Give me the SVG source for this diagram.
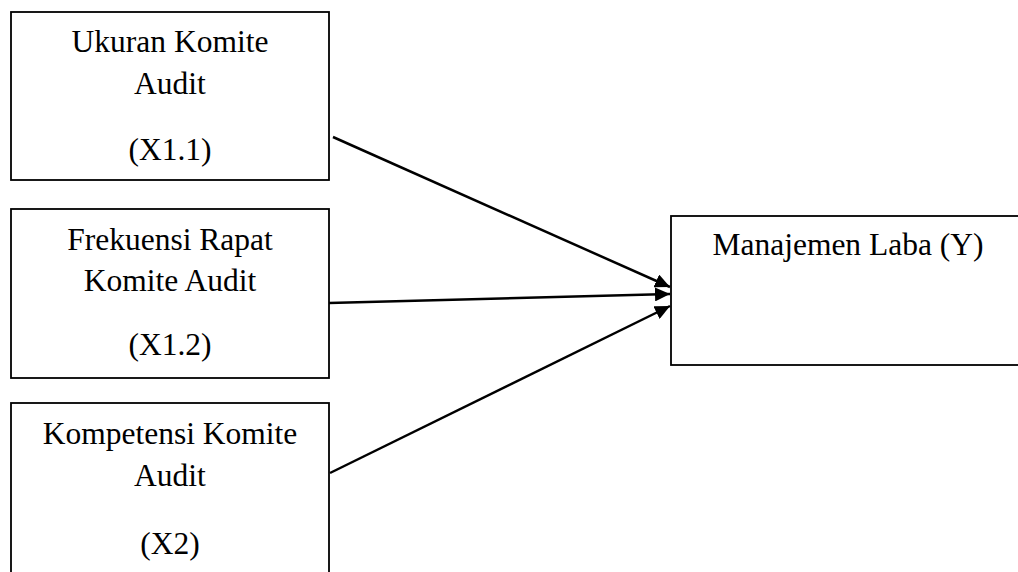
<svg xmlns="http://www.w3.org/2000/svg" width="1018" height="572" viewBox="0 0 1018 572">
  <style>
    .box { fill: #ffffff; stroke: #000000; stroke-width: 1.8; }
    .lbl { font-family: "Liberation Serif", "Times New Roman", serif; font-size: 31.5px; fill: #000000; text-anchor: middle; }
    .conn { stroke: #000000; stroke-width: 2.5; fill: none; marker-end: url(#arrow); }
  </style>
  <defs>
    <marker id="arrow" markerUnits="userSpaceOnUse" markerWidth="16" markerHeight="14" refX="15" refY="7" orient="auto">
      <path d="M0,0 L15,7 L0,14 z" fill="#000000"/>
    </marker>
  </defs>
  <rect width="1018" height="572" fill="#ffffff"/>
  <g id="node-x11">
    <rect class="box" x="11" y="12" width="318" height="168"/>
    <text class="lbl" x="170" y="52">Ukuran Komite</text>
    <text class="lbl" x="170" y="94">Audit</text>
    <text class="lbl" x="170" y="160">(X1.1)</text>
  </g>
  <g id="node-x12">
    <rect class="box" x="11" y="209" width="318" height="169"/>
    <text class="lbl" x="170" y="250">Frekuensi Rapat</text>
    <text class="lbl" x="170" y="291">Komite Audit</text>
    <text class="lbl" x="170" y="355">(X1.2)</text>
  </g>
  <g id="node-x2">
    <rect class="box" x="11" y="403" width="318" height="200"/>
    <text class="lbl" x="170" y="444">Kompetensi Komite</text>
    <text class="lbl" x="170" y="486">Audit</text>
    <text class="lbl" x="170" y="554">(X2)</text>
  </g>
  <g id="node-y">
    <rect class="box" x="671" y="216" width="360" height="149"/>
    <text class="lbl" x="848" y="255">Manajemen Laba (Y)</text>
  </g>
  <g id="connectors">
    <line class="conn" x1="333" y1="137" x2="670" y2="287"/>
    <line class="conn" x1="329" y1="303" x2="670" y2="294"/>
    <line class="conn" x1="330" y1="473" x2="670" y2="306"/>
  </g>
</svg>
